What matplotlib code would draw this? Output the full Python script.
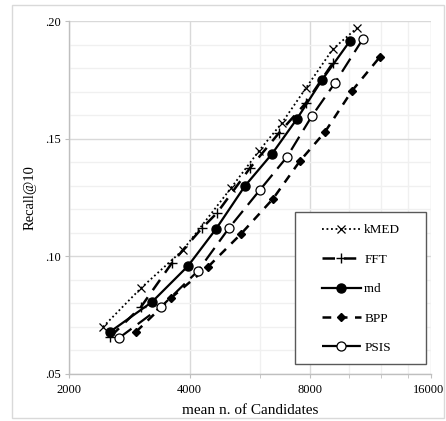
import matplotlib
matplotlib.use('Agg')
from matplotlib import pyplot as plt
from matplotlib.patches import Rectangle
from matplotlib.ticker import FixedLocator, NullFormatter
from matplotlib.transforms import ScaledTranslation

plt.rcParams['font.family'] = ['Liberation Serif', 'DejaVu Serif']

# data
kmed_x = [2431, 3024, 3849, 5070, 5955, 6796, 7800, 9107, 10454]
kmed_y = [.0700, .0865, .1027, .1290, .1448, .1567, .1715, .1881, .1970]

fft_x = [2531, 3024, 3613, 4293, 4679, 5655, 6680, 7800, 9107]
fft_y = [.0657, .0785, .0972, .1120, .1184, .1375, .1524, .1652, .1822]

rnd_x = [2531, 3221, 3962, 4652, 5495, 6417, 7407, 8551, 10043]
rnd_y = [.0679, .0806, .0959, .1116, .1299, .1435, .1584, .1749, .1915]

bpp_x = [2938, 3592, 4443, 5370, 6453, 7535, 8698, 10158, 11930]
bpp_y = [.0679, .0823, .0955, .1095, .1244, .1405, .1528, .1703, .1847]

psis_x = [2665, 3392, 4195, 5013, 5988, 6993, 8072, 9215, 10822]
psis_y = [.0653, .0785, .0938, .1120, .1282, .1422, .1596, .1737, .1924]

x_ticks = [2000, 4000, 8000, 16000]
x_minor = [6000, 10000, 12000, 14000]
y_ticks = [.05, .10, .15, .20]
y_tick_labels = ['.05', '.10', '.15', '.20']

W, H = 446, 421
fig = plt.figure(figsize=(W / 100, H / 100), dpi=100)
ax = fig.add_axes([69/W, 47/H, 362/W, 353/H])

# chart area border
fig.patches.append(Rectangle((12/W, 3/H), 432/W, 413/H, transform=fig.transFigure,
                             fill=False, edgecolor='#d9d9d9', linewidth=1.0))

ax.plot(kmed_x, kmed_y, color='k', linestyle=(0, (1, 1.5)), linewidth=1.3,
        marker='x', markersize=6, markeredgewidth=0.9, label='kMED')
ax.plot(fft_x, fft_y, color='k', linestyle=(0, (5, 3.5)), linewidth=1.8,
        marker='+', markersize=7, markeredgewidth=1.0, label='FFT')
ax.plot(rnd_x, rnd_y, color='k', linestyle='-', linewidth=1.6,
        marker='o', markersize=6.5, label='rnd')
ax.plot(bpp_x, bpp_y, color='k', linestyle=(0, (3.5, 3)), linewidth=1.8,
        marker='D', markersize=4.5, label='BPP')
ax.plot(psis_x, psis_y, color='k', linestyle=(0, (7, 3.5)), linewidth=1.6,
        marker='o', markersize=6.5, markerfacecolor='white', markeredgewidth=0.9, label='PSIS')

ax.set_xscale('log', base=2)
ax.set_xlim(2000, 16000)
ax.set_ylim(0.05, 0.20)
ax.xaxis.set_major_locator(FixedLocator(x_ticks))
ax.set_xticklabels([str(v) for v in x_ticks])
ax.xaxis.set_minor_locator(FixedLocator(x_minor))
ax.xaxis.set_minor_formatter(NullFormatter())
ax.set_yticks(y_ticks)
ax.set_yticklabels(y_tick_labels)
ax.set_yticks([.06, .07, .08, .09, .11, .12, .13, .14, .16, .17, .18, .19], minor=True)

ax.grid(True, which='major', color='#d9d9d9', linewidth=1.0)
ax.grid(True, which='minor', color='#f0f0f0', linewidth=1.0)
ax.set_axisbelow(True)

for s in ['top', 'right']:
    ax.spines[s].set_visible(False)
for s in ['left', 'bottom']:
    ax.spines[s].set_color('#bfbfbf')
    ax.spines[s].set_linewidth(1.0)

ax.tick_params(which='both', direction='out', color='#bfbfbf', labelsize=9, colors='k')
ax.tick_params(which='major', length=3)
ax.tick_params(which='minor', length=3)
ax.tick_params(axis='y', which='minor', length=0)
ax.tick_params(axis='x', pad=4)
ax.tick_params(axis='y', pad=3)

# keep the last x label inside the picture (right edge near the border)
last = ax.get_xticklabels()[-1]
last.set_horizontalalignment('right')
last.set_transform(last.get_transform() + ScaledTranslation(13/100, 0, fig.dpi_scale_trans))

ax.set_xlabel('mean n. of Candidates', fontsize=11, labelpad=6)
ax.set_ylabel('Recall@10', fontsize=10.5, labelpad=6)

# legend box drawn like the reference (fixed box, entries inside)
box = Rectangle((295/W, (H - 364)/H), 131/W, 152/H, transform=fig.transFigure,
                fill=True, facecolor='white', edgecolor='#595959',
                linewidth=1.0, zorder=5)
ax.add_patch(box)
leg = ax.legend(loc='center left', bbox_to_anchor=(322/W, (H - 289)/H), bbox_transform=fig.transFigure,
                fontsize=9.5, frameon=False, handlelength=2.95,
                labelspacing=1.3, borderpad=0, handletextpad=0.25, borderaxespad=0)
leg.set_zorder(6)

fig.savefig('out.png', dpi=100)
